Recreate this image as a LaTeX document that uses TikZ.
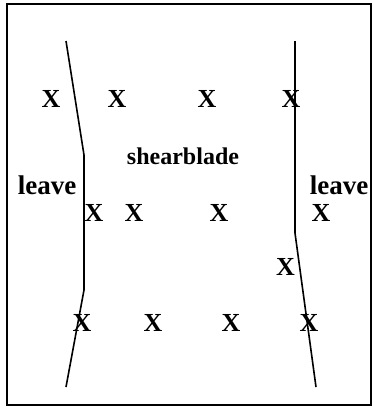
\documentclass[tikz,border=0pt]{standalone}
\usepackage{fontspec}
\setmainfont{Liberation Serif}
\begin{document}
\begin{tikzpicture}[
    x=1pt, y=-1pt,
    cross/.style={inner sep=0pt, font=\fontsize{26}{26}\selectfont\bfseries},
    side/.style={inner sep=0pt, font=\fontsize{27}{27}\selectfont\bfseries},
    blade/.style={inner sep=0pt, font=\fontsize{24}{24}\selectfont\bfseries},
    edge/.style={line width=1.6pt}
]

\useasboundingbox (0,0) rectangle (374,408);
\draw[line width=1.7pt] (7,4) rectangle (371,405);

\coordinate (l1) at (66,41);
\coordinate (l2) at (84,155);
\coordinate (l3) at (84,290);
\coordinate (l4) at (66,387);
\coordinate (r1) at (295,41);
\coordinate (r2) at (295,233);
\coordinate (r3) at (316,387);

\draw[edge] (l1) -- (l2) -- (l3) -- (l4);
\draw[edge] (r1) -- (r2) -- (r3);

\node[cross] (a1) at (51,99) {X};
\node[cross] (a2) at (117,99) {X};
\node[cross] (a3) at (207,99) {X};
\node[cross] (a4) at (291,99) {X};

\node[cross] (b1) at (94,213) {X};
\node[cross] (b2) at (134,213) {X};
\node[cross] (b3) at (219,213) {X};
\node[cross] (b4) at (321,213) {X};

\node[cross] (c0) at (285.5,267) {X};

\node[cross] (c1) at (82,323) {X};
\node[cross] (c2) at (153,323) {X};
\node[cross] (c3) at (231,323) {X};
\node[cross] (c4) at (309,323) {X};

\node[side] (leftleave) at (47,185) {leave};
\node[side] (rightleave) at (339,185) {leave};
\node[blade] (blade) at (183,156) {shearblade};

\end{tikzpicture}
\end{document}
